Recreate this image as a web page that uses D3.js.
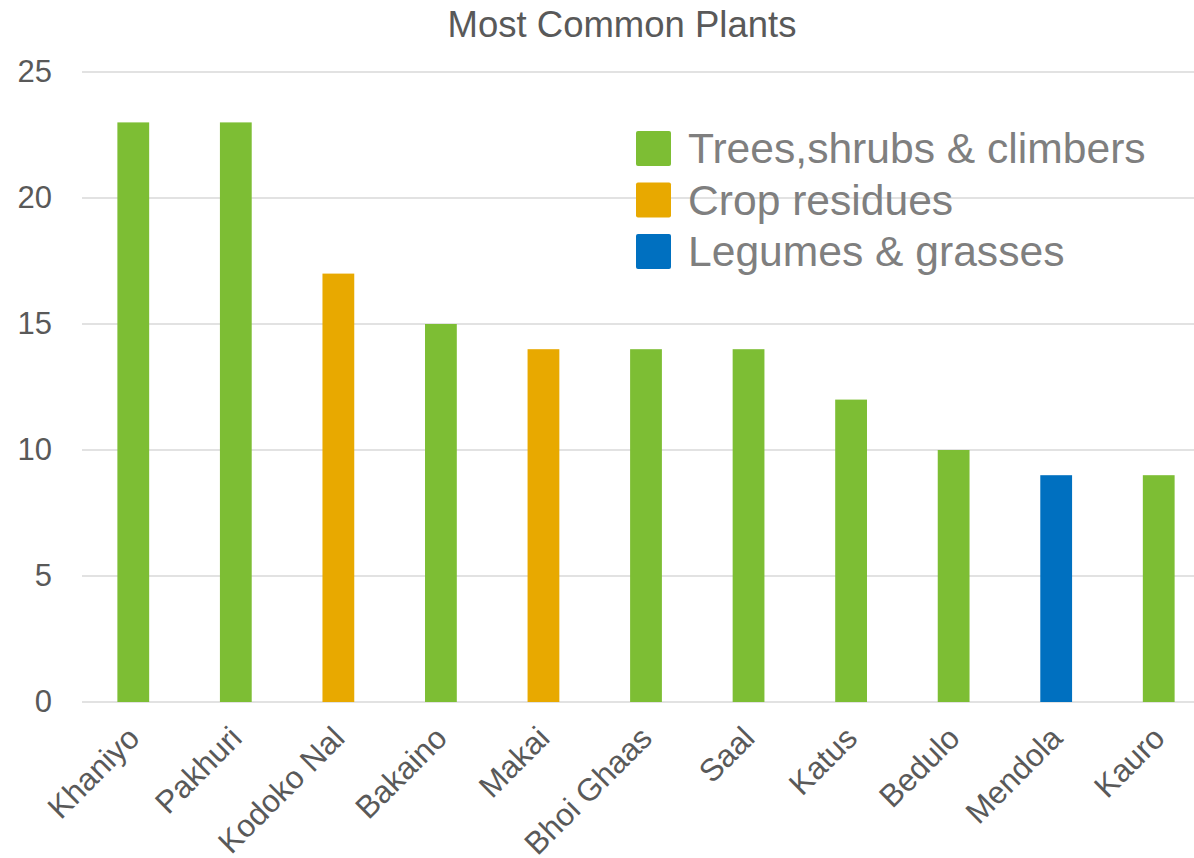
<!DOCTYPE html>
<html>
<head>
<meta charset="utf-8">
<script src="https://cdn.jsdelivr.net/npm/d3@7"></script>
<style>
  body { margin: 0; background: #fff; }
  svg { display: block; font-family: Arial, "Liberation Sans", sans-serif; }
</style>
</head>
<body>
<svg id="chart" width="1194" height="858"></svg>
<script>
// data
let plants = ["Khaniyo", "Pakhuri", "Kodoko Nal", "Bakaino", "Makai", "Bhoi Ghaas",
              "Saal", "Katus", "Bedulo", "Mendola", "Kauro"];
let counts = [23, 23, 17, 15, 14, 14, 14, 12, 10, 9, 9];
let groups = ["Trees,shrubs & climbers", "Trees,shrubs & climbers", "Crop residues",
              "Trees,shrubs & climbers", "Crop residues", "Trees,shrubs & climbers",
              "Trees,shrubs & climbers", "Trees,shrubs & climbers", "Trees,shrubs & climbers",
              "Legumes & grasses", "Trees,shrubs & climbers"];
let groupNames = ["Trees,shrubs & climbers", "Crop residues", "Legumes & grasses"];
let groupColors = ["#7dbe34", "#e8a900", "#0070c0"];
let yTicks = [0, 5, 10, 15, 20, 25];

let data = plants.map(function(d, i) {
    return { name: d, value: counts[i], group: groups[i] };
});

let svg = d3.select("#chart");
let width = 1194, height = 858;

let x = d3.scaleBand()
    .domain(plants)
    .range([82, 1210])
    .paddingInner(0.69)
    .paddingOuter(0.345);

let y = d3.scaleLinear()
    .domain([0, 25])
    .range([702, 72]);

let color = d3.scaleOrdinal()
    .domain(groupNames)
    .range(groupColors);

// title
svg.append("text")
    .attr("x", 622)
    .attr("y", 37)
    .attr("text-anchor", "middle")
    .attr("fill", "#595959")
    .style("font-size", "36.5px")
    .text("Most Common Plants");

// grid
svg.append("g")
    .selectAll("line")
    .data(yTicks)
    .enter()
    .append("line")
    .attr("x1", 82)
    .attr("x2", width)
    .attr("y1", function(d) { return y(d); })
    .attr("y2", function(d) { return y(d); })
    .attr("stroke", "#d9d9d9")
    .attr("stroke-width", 1.5);

// y axis labels
let yAxis = svg.append("g")
    .attr("transform", "translate(72,0)")
    .call(d3.axisLeft(y).tickValues(yTicks).tickSize(0).tickPadding(20));
yAxis.select(".domain").remove();
yAxis.selectAll("text")
    .attr("fill", "#595959")
    .style("font-size", "31px")
    .style("font-family", "Arial, 'Liberation Sans', sans-serif");

// bars
svg.append("g")
    .selectAll("rect")
    .data(data)
    .enter()
    .append("rect")
    .attr("x", function(d) { return x(d.name); })
    .attr("y", function(d) { return y(d.value); })
    .attr("width", x.bandwidth())
    .attr("height", function(d) { return y(0) - y(d.value); })
    .attr("fill", function(d) { return color(d.group); });

// x labels, rotated like the original
let xAxis = svg.append("g")
    .attr("transform", "translate(0," + y(0) + ")")
    .call(d3.axisBottom(x).tickSize(0));
xAxis.select(".domain").remove();
xAxis.selectAll("text")
    .attr("fill", "#595959")
    .style("font-size", "31.5px")
    .style("font-family", "Arial, 'Liberation Sans', sans-serif")
    .attr("text-anchor", "end")
    .attr("dy", null)
    .attr("y", 0)
    .attr("transform", "translate(8,38) rotate(-45)");

// legend
let legend = svg.append("g")
    .selectAll("g")
    .data(groupNames)
    .enter()
    .append("g")
    .attr("transform", function(d, i) { return "translate(636," + (131 + i * 51.5) + ")"; });

legend.append("rect")
    .attr("width", 35)
    .attr("height", 35)
    .attr("rx", 2)
    .attr("fill", function(d) { return color(d); });

legend.append("text")
    .attr("x", 52)
    .attr("y", 32)
    .attr("fill", "#7f7f7f")
    .style("font-size", "42.6px")
    .text(function(d) { return d; });
</script>
</body>
</html>
